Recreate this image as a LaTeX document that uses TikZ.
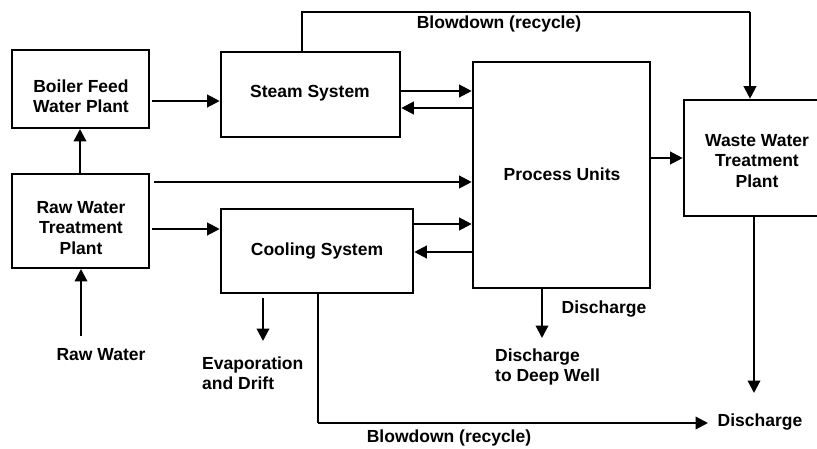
\documentclass[tikz,border=0pt]{standalone}
\usepackage{fontspec}
\setmainfont{Liberation Sans}
\usetikzlibrary{arrows.meta}
\begin{document}
\begin{tikzpicture}[x=1pt,y=-1pt,
  every node/.style={font=\fontsize{17.5}{20.5}\selectfont\bfseries, inner sep=0pt},
  thinbox/.style={draw, line width=2pt, rectangle},
  thickbox/.style={draw, line width=2.6pt, rectangle},
  lbl/.style={align=center},
  arr/.style={line width=2.2pt, -{Triangle[length=12.5pt,width=12.5pt]}},
  pipe/.style={line width=2.4pt}]
\useasboundingbox (0,0) rectangle (817,449);
\clip (0,0) rectangle (817,449);
% boxes
\node[thinbox, minimum width=137pt, minimum height=78pt] (boiler) at (80.5,89) {};
\node[thickbox, minimum width=179pt, minimum height=85pt] (steam) at (310.5,94.5) {};
\node[thinbox, minimum width=137pt, minimum height=94pt] (raw) at (80.5,221) {};
\node[thickbox, minimum width=192pt, minimum height=84pt] (cooling) at (317,251) {};
\node[thickbox, minimum width=177pt, minimum height=226pt] (process) at (561.5,175) {};
\node[thickbox, minimum width=146pt, minimum height=116pt] (waste) at (757,158) {};
% box texts
\node[lbl] (tboiler) at (81,96) {Boiler Feed\\Water Plant};
\node[lbl] (tsteam) at (310,93) {Steam System};
\node[lbl] (traw) at (81,228) {Raw Water\\Treatment\\Plant};
\node[lbl] (tcooling) at (317,251) {Cooling System};
\node[lbl] (tprocess) at (562,174) {Process Units};
\node[lbl] (twaste) at (757,161) {Waste Water\\Treatment\\Plant};
% free labels
\node (lblow1) at (499,24) {Blowdown (recycle)};
\node (lblow2) at (449,438) {Blowdown (recycle)};
\node (ldis1) at (604,309) {Discharge};
\node[align=left, anchor=west] (ldeep) at (495,367) {Discharge\\to Deep Well};
\node (ldis2) at (760,422) {Discharge};
\node[align=left, anchor=west] (levap) at (202,373) {Evaporation\\and Drift};
\node (lraw) at (101,355) {Raw Water};
% coordinates
\coordinate (blA) at (302,12);
\coordinate (blB) at (750,12);
\coordinate (deep) at (542,338);
\coordinate (wdis) at (754,393);
\coordinate (cbA) at (318,423);
\coordinate (cbB) at (708,423);
\coordinate (evA) at (263,298);
\coordinate (evB) at (263,341);
\coordinate (rawin) at (81,336);
\coordinate (rbx) at (80,0);
% connectors
\draw[arr] ([xshift=2pt]boiler.east |- 0,101) -- (steam.west |- 0,101);
\draw[arr] (rbx |- raw.north) -- (rbx |- boiler.south);
\draw[arr] (rawin) -- (raw.south -| rawin);
\draw[arr] ([xshift=4pt]raw.east |- 0,182) -- (process.west |- 0,182);
\draw[arr] ([xshift=2pt]raw.east |- 0,229) -- (cooling.west |- 0,229);
\draw[arr] (steam.east |- 0,91) -- (process.west |- 0,91);
\draw[arr] (process.west |- 0,108) -- (steam.east |- 0,108);
\draw[arr] (cooling.east |- 0,224) -- (process.west |- 0,224);
\draw[arr] (process.west |- 0,252) -- (cooling.east |- 0,252);
\draw[arr] (process.east |- 0,158) -- (waste.west |- 0,158);
\draw[pipe] (blA |- steam.north) -- (blA) -- (blB);
\draw[arr] (blB) -- (blB |- waste.north);
\draw[arr] (deep |- process.south) -- (deep);
\draw[arr] (wdis |- waste.south) -- (wdis);
\draw[pipe] (cbA |- cooling.south) -- (cbA);
\draw[arr] (cbA) -- (cbB);
\draw[arr] (evA) -- (evB);
\end{tikzpicture}
\end{document}
